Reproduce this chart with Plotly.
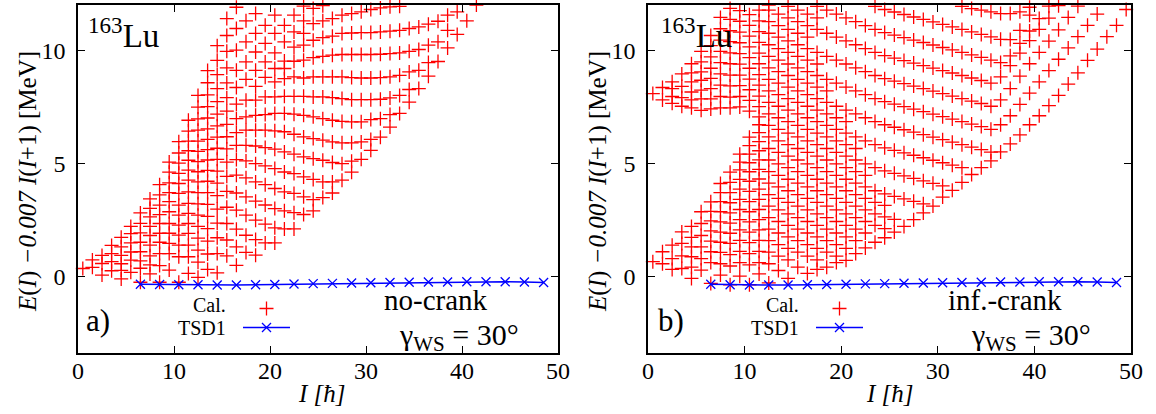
import plotly.graph_objects as go

FONT = "Liberation Serif"

# ---------------- Panel a (no-crank): calculated levels, one list per spin column ----------------
a_spins = [0.5, 1.5, 2.5, 3.5, 4.5, 5.5, 6.5, 7.5, 8.5, 9.5, 10.5, 11.5, 12.5, 13.5, 14.5, 15.5,
           16.5, 17.5, 18.5, 19.5, 20.5, 21.5, 22.5, 23.5, 24.5, 25.5, 26.5, 27.5, 28.5, 29.5,
           30.5, 31.5, 32.5, 33.5, 34.5, 35.5, 36.5, 37.5, 38.5, 39.5, 40.5, 41.5]
a_levels = [
    [0.34],
    [0.39, 0.72],
    [0.05, 0.56, 0.92],
    [0.24, 0.64, 1.0, 1.36],
    [-0.12, 0.26, 0.55, 0.92, 1.3, 1.72],
    [0.17, 0.71, 1.07, 1.47, 1.88, 2.2],
    [-0.27, 0.35, 0.68, 1.08, 1.5, 1.92, 2.34, 2.8],
    [0.1, 0.5, 0.9, 1.37, 1.8, 2.2, 2.62, 3.0, 3.42],
    [-0.27, 0.47, 1.0, 1.5, 1.9, 2.33, 2.72, 3.14, 3.6, 4.05],
    [0.27, 1.0, 1.45, 1.9, 2.33, 2.85, 3.3, 3.7, 4.13, 4.6, 5.05],
    [-0.27, 0.86, 1.37, 1.82, 2.26, 2.7, 3.14, 3.66, 4.1, 4.55, 5.0, 5.45, 5.95],
    [0.12, 0.86, 1.37, 1.89, 2.33, 2.78, 3.22, 3.73, 4.25, 4.69, 5.13, 5.55, 5.98, 6.42, 6.9],
    [-0.05, 0.62, 1.15, 1.68, 2.2, 2.7, 3.2, 3.7, 4.17, 4.62, 5.07, 5.52, 5.98, 6.46, 6.96, 7.48, 8.0],
    [0.3, 0.98, 1.55, 2.1, 2.65, 3.18, 3.7, 4.2, 4.68, 5.14, 5.6, 6.05, 6.52, 7.0, 7.5, 8.02, 8.56, 9.1],
    [0.15, 1.0, 1.7, 2.35, 2.97, 3.56, 4.12, 4.65, 5.17, 5.66, 6.15, 6.65, 7.17, 7.72, 8.3, 8.92, 9.55, 10.2],
    [0.9, 1.6, 2.33, 3.05, 3.75, 4.42, 5.05, 5.63, 6.17, 6.72, 7.3, 7.9, 8.55, 9.22, 9.95, 10.65, 11.4],
    [0.48, 1.3, 2.08, 2.92, 3.68, 4.47, 5.16, 5.79, 6.35, 6.97, 7.61, 8.35, 9.11, 10.0, 10.96, 11.9],
    [1.05, 1.81, 2.7, 3.51, 4.35, 5.1, 5.79, 6.46, 7.05, 7.79, 8.71, 9.48, 10.37, 11.3],
    [0.93, 1.62, 2.48, 3.32, 4.17, 4.98, 5.76, 6.46, 7.12, 7.79, 8.4, 9.11, 9.92, 10.74, 11.62],
    [1.47, 2.3, 3.15, 4.05, 4.88, 5.69, 6.46, 7.15, 7.93, 8.8, 9.48, 10.3, 11.1],
    [1.47, 2.14, 2.99, 3.88, 4.76, 5.62, 6.43, 7.2, 7.93, 8.6, 9.19, 9.88, 10.74, 11.55],
    [2.09, 2.89, 3.73, 4.61, 5.5, 6.39, 7.2, 7.96, 8.74, 9.19, 9.52, 10.37, 11.1],
    [2.09, 2.81, 3.66, 4.54, 5.4, 6.28, 7.17, 7.96, 8.82, 9.51, 10.14, 10.81, 11.55],
    [2.73, 3.51, 4.39, 5.28, 6.16, 7.12, 7.96, 8.77, 9.56, 10.22, 10.74, 11.3, 11.95],
    [2.89, 3.39, 4.28, 5.2, 6.09, 7.05, 7.93, 8.82, 9.67, 10.44, 11.18, 11.85],
    [3.48, 4.17, 5.13, 6.02, 6.97, 7.93, 8.82, 9.73, 10.56, 11.3, 11.97],
    [3.68, 4.17, 5.03, 5.94, 6.9, 7.9, 8.82, 9.78, 10.62, 11.4],
    [4.25, 4.98, 5.9, 6.85, 7.86, 8.82, 9.81, 10.74, 11.55],
    [4.6, 5.09, 5.9, 6.83, 7.81, 8.79, 9.81, 10.76, 11.62],
    [5.17, 5.94, 6.83, 7.81, 8.77, 9.81, 10.78, 11.7],
    [5.57, 6.05, 6.93, 7.81, 8.77, 9.81, 10.78, 11.8],
    [6.15, 6.97, 7.83, 8.79, 9.82, 10.81, 11.87],
    [6.6, 7.15, 7.89, 8.82, 9.85, 10.84, 11.92],
    [7.2, 8.0, 8.89, 9.88, 10.88, 11.94],
    [7.7, 8.26, 9.04, 9.95, 10.96],
    [8.3, 9.11, 10.03, 11.03],
    [8.85, 9.45, 10.22, 11.15],
    [9.5, 10.37, 11.28],
    [10.1, 10.88, 11.55],
    [10.7, 11.7],
    [11.3],
    [12.0],
]

# ---------------- Panel b (inf.-crank): low-spin columns ----------------
b_col_spins = [0.5, 1.5, 2.5, 3.5, 4.5, 5.5, 6.5, 7.5, 8.5, 9.5, 10.5, 11.5]
b_col_levels = [
    [0.64, 8.08],
    [0.55, 1.08, 7.8, 8.35],
    [0.3, 0.78, 1.37, 7.65, 7.95, 8.3, 8.6],
    [0.34, 0.9, 1.45, 1.96, 7.52, 7.9, 8.4, 8.95],
    [-0.1, 0.4, 0.86, 1.3, 1.72, 2.2, 7.45, 7.8, 8.15, 8.6, 9.0, 9.4],
    [0.27, 0.78, 1.3, 1.8, 2.33, 2.85, 7.34, 7.85, 8.23, 8.67, 9.04, 9.48, 9.95],
    [-0.32, 0.6, 1.08, 1.55, 2.0, 2.45, 2.87, 3.29, 7.4, 7.85, 8.3, 8.75, 9.2, 9.7, 10.2, 10.65],
    [0.05, 0.55, 1.05, 1.5, 1.95, 2.4, 2.85, 3.3, 3.7, 4.1, 7.45, 7.95, 8.45, 8.95, 9.45, 9.95, 10.45, 10.95, 11.45],
    [-0.38, 0.45, 0.95, 1.45, 1.9, 2.35, 2.8, 3.25, 3.7, 4.15, 4.6, 7.45, 7.92, 8.42, 8.9, 9.4, 9.88, 10.38, 10.86, 11.36, 11.85],
    [0.0, 0.6, 1.1, 1.58, 2.05, 2.5, 2.95, 3.4, 3.85, 4.28, 4.7, 5.05, 5.4, 7.49, 7.95, 8.43, 8.9, 9.38, 9.85, 10.33, 10.8, 11.28, 11.75],
    [-0.38, 0.5, 1.0, 1.48, 1.95, 2.4, 2.85, 3.3, 3.75, 4.2, 4.62, 5.02, 5.4, 5.78, 6.15, 7.3, 7.78, 8.25, 8.72, 9.2, 9.67, 10.15, 10.62, 11.1, 11.57],
    [0.1, 0.6, 1.1, 1.58, 2.05, 2.5, 2.95, 3.4, 3.85, 4.3, 4.73, 5.15, 5.55, 5.95, 6.35, 6.7, 7.05, 7.5, 7.97, 8.45, 8.92, 9.4, 9.87, 10.35, 10.82, 11.3, 11.77],
]

# ---------------- Panel b: bands (first spin, energies at successive spins dI = 1) ----------------
b_band_start = [12.5, 12.5, 12.5, 12.5, 12.5, 12.5, 12.5, 12.5, 12.5, 12.5, 12.5, 12.5, 12.5, 12.5,
                12.5, 12.5, 12.5, 12.5, 12.5, 12.5, 12.5, 12.5, 12.5, 12.5, 12.5, 14.5, 17.5, 23.5, 32.5]
b_band_levels = [
    [-0.3, 0.25, -0.1, 0.4, 0.12, 0.3, 0.4, 0.6, 0.7, 1.0, 1.25, 1.5, 1.7, 1.95, 2.2, 2.5, 2.8, 3.1, 3.5,
     3.8, 4.15, 4.5, 4.8, 5.1, 5.5, 5.85, 6.25, 6.7, 7.1, 7.55, 8.0, 8.5, 9.0, 9.55, 10.05, 10.6, 11.1, 11.8],
    [0.55],
    [1.06, 0.89, 0.72],
    [1.57, 1.4, 1.23, 1.06, 0.89, 0.72],
    [2.08, 1.91, 1.74, 1.57, 1.4, 1.23, 1.06, 0.89],
    [2.59, 2.42, 2.25, 2.08, 1.91, 1.74, 1.57, 1.4, 1.23],
    [3.1, 2.93, 2.76, 2.59, 2.42, 2.25, 2.08, 1.91, 1.74, 1.57],
    [3.61, 3.44, 3.27, 3.1, 2.93, 2.76, 2.59, 2.42, 2.25, 2.08, 1.91],
    [4.12, 3.95, 3.78, 3.61, 3.44, 3.27, 3.1, 2.93, 2.76, 2.59, 2.42, 2.25, 2.1],
    [4.63, 4.46, 4.29, 4.12, 3.95, 3.78, 3.61, 3.44, 3.27, 3.1, 2.93, 2.76, 2.62, 2.51],
    [5.14, 4.97, 4.8, 4.63, 4.46, 4.29, 4.12, 3.95, 3.78, 3.61, 3.44, 3.27, 3.13],
    [5.65, 5.48, 5.31, 5.14, 4.97, 4.8, 4.63, 4.46, 4.29, 4.12, 3.95, 3.78, 3.64, 3.53, 3.42, 3.31, 3.2],
    [6.16, 5.99, 5.82, 5.65, 5.48, 5.31, 5.14, 4.97, 4.8, 4.63, 4.46],
    [6.67, 6.5, 6.33, 6.16, 5.99, 5.82, 5.65, 5.48, 5.31, 5.14, 4.97, 4.8, 4.66, 4.55, 4.44, 4.33, 4.22,
     4.11, 4.0],
    [7.18, 7.01, 6.84, 6.67, 6.5, 6.33, 6.16, 5.99, 5.82, 5.65],
    [7.69, 7.52, 7.35, 7.18, 7.01, 6.84, 6.67, 6.5, 6.33, 6.16, 5.99, 5.82, 5.68, 5.57, 5.46, 5.35, 5.24,
     5.13, 5.02, 4.91, 4.8],
    [8.2, 8.03, 7.86, 7.69, 7.52, 7.35, 7.18, 7.01, 6.84],
    [8.71, 8.54, 8.37, 8.2, 8.03, 7.86, 7.69, 7.52, 7.35, 7.18, 7.01, 6.84, 6.7, 6.59, 6.48, 6.37, 6.26,
     6.15, 6.04, 5.93, 5.82, 5.71, 5.6, 5.49],
    [9.22, 9.05, 8.88, 8.71, 8.54, 8.37, 8.2],
    [9.73, 9.56, 9.39, 9.22, 9.05, 8.88, 8.71, 8.54, 8.37, 8.2, 8.03, 7.86, 7.72, 7.61, 7.5, 7.39, 7.28,
     7.17, 7.06, 6.95, 6.84, 6.73, 6.62, 6.5, 6.7, 7.1, 7.6, 8.1, 8.6, 9.1, 9.6, 10.1, 10.6, 11.1, 11.6],
    [10.24, 10.07, 9.9, 9.73, 9.56, 9.39],
    [10.75, 10.58, 10.41, 10.24, 10.07, 9.9, 9.73, 9.56, 9.39, 9.22, 9.05, 8.88, 8.74, 8.63, 8.52, 8.41,
     8.3, 8.19, 8.08, 7.97, 7.86, 7.75, 7.64, 7.52, 7.8, 8.3, 8.85, 9.4, 9.9, 10.4, 10.9, 11.45, 11.95],
    [11.26, 11.09, 10.92, 10.75, 10.58],
    [11.77, 11.6, 11.43, 11.26, 11.09, 10.92, 10.75, 10.58, 10.41, 10.24, 10.07, 9.9, 9.76, 9.65, 9.54,
     9.43, 9.32, 9.21, 9.1, 8.99, 8.88, 8.77, 8.66, 8.54, 8.82, 9.32, 9.87, 10.42, 10.92, 11.42, 11.97],
    [12.0],
    [11.94, 11.77, 11.6, 11.43],
    [11.94, 11.77, 11.6, 11.43, 11.26, 11.09, 10.92, 10.78, 10.67, 10.56, 10.45, 10.34, 10.23, 10.12,
     10.01, 9.9, 9.79, 9.68, 9.56, 9.45, 9.75, 10.3, 10.85, 11.4, 11.95],
    [11.94, 11.8, 11.69, 11.58, 11.47, 11.36, 11.25, 11.14, 11.03, 10.92, 10.81, 10.7, 10.59, 10.48,
     10.47, 10.88, 11.55],
    [11.94, 11.84, 11.77, 11.7, 11.62, 11.62, 11.7, 11.9],
]

# ---------------- TSD1 ----------------
tsd_spins = [6.5, 8.5, 10.5, 12.5, 14.5, 16.5, 18.5, 20.5, 22.5, 24.5, 26.5, 28.5, 30.5, 32.5,
             34.5, 36.5, 38.5, 40.5, 42.5, 44.5, 46.5, 48.5]
tsd_a = [-0.36, -0.37, -0.38, -0.38, -0.39, -0.39, -0.38, -0.37, -0.35, -0.33, -0.32, -0.30,
         -0.29, -0.28, -0.27, -0.26, -0.26, -0.25, -0.25, -0.25, -0.26, -0.28]
tsd_b = [-0.36, -0.38, -0.39, -0.39, -0.39, -0.38, -0.37, -0.36, -0.34, -0.33, -0.31, -0.30,
         -0.29, -0.28, -0.27, -0.26, -0.26, -0.25, -0.25, -0.25, -0.26, -0.28]

x_ticks = [0, 10, 20, 30, 40, 50]
y_ticks = [0, 5, 10]


def flatten_columns(spins, levels):
    xs, ys = [], []
    for s, lv in zip(spins, levels):
        for e in lv:
            xs.append(s)
            ys.append(e)
    return xs, ys


def flatten_bands(starts, levels):
    xs, ys = [], []
    for s, lv in zip(starts, levels):
        for k, e in enumerate(lv):
            xs.append(s + k)
            ys.append(e)
    return xs, ys


xa, ya = flatten_columns(a_spins, a_levels)
xb1, yb1 = flatten_columns(b_col_spins, b_col_levels)
xb2, yb2 = flatten_bands(b_band_start, b_band_levels)
xb, yb = xb1 + xb2, yb1 + yb2

W, H = 1156, 414
RED = "rgb(255,0,0)"
BLUE = "rgb(0,0,255)"

cal_marker = dict(symbol="cross-thin", size=10, color=RED, line=dict(color=RED, width=1.3))
tsd_marker = dict(symbol="x-thin", size=9, color=BLUE, line=dict(color=BLUE, width=1.3))

# legend keys are drawn by the legends; their labels are placed to the left as text (gnuplot style)
fig = go.Figure()
fig.add_trace(go.Scatter(x=xa, y=ya, mode="markers", name="", marker=cal_marker,
                         xaxis="x", yaxis="y", legend="legend", cliponaxis=False))
fig.add_trace(go.Scatter(x=tsd_spins, y=tsd_a, mode="lines+markers", name="",
                         line=dict(color=BLUE, width=1.5), marker=tsd_marker,
                         xaxis="x", yaxis="y", legend="legend", cliponaxis=False))
fig.add_trace(go.Scatter(x=xb, y=yb, mode="markers", name="", marker=cal_marker,
                         xaxis="x2", yaxis="y2", legend="legend2", cliponaxis=False))
fig.add_trace(go.Scatter(x=tsd_spins, y=tsd_b, mode="lines+markers", name="",
                         line=dict(color=BLUE, width=1.5), marker=tsd_marker,
                         xaxis="x2", yaxis="y2", legend="legend2", cliponaxis=False))

px = lambda v: v / W
py = lambda v: (H - v) / H

tick_font = dict(family=FONT, size=24, color="black")


def axis_style(**kw):
    d = dict(showgrid=False, zeroline=False, showline=True, mirror="ticks", linecolor="black",
             linewidth=1.5, ticks="inside", ticklen=7, tickwidth=1, tickcolor="black",
             tickfont=tick_font, automargin=False)
    d.update(kw)
    return d


ydom = [py(353), py(5)]
leg_common = dict(xanchor="left", yanchor="top", bgcolor="rgba(0,0,0,0)",
                  font=dict(family=FONT, size=12, color="black"), itemwidth=47,
                  tracegroupgap=0, borderwidth=0)
fig.update_layout(
    width=W, height=H, margin=dict(l=0, r=0, t=0, b=0, pad=0),
    font=dict(family=FONT, size=24, color="black"),
    paper_bgcolor="white", plot_bgcolor="white",
    xaxis=axis_style(domain=[px(78), px(558)], range=[0, 50], tickvals=x_ticks, anchor="y",
                     ticklabelstandoff=-5),
    yaxis=axis_style(domain=ydom, range=[-3.4, 12.0], tickvals=y_ticks, anchor="x",
                     ticklabelstandoff=6),
    xaxis2=axis_style(domain=[px(648), px(1131)], range=[0, 50], tickvals=x_ticks, anchor="y2",
                      ticklabelstandoff=-5),
    yaxis2=axis_style(domain=ydom, range=[-3.4, 12.0], tickvals=y_ticks, anchor="x2",
                      ticklabelstandoff=6),
    legend=dict(x=px(238), y=py(294), **leg_common),
    legend2=dict(x=px(811), y=py(294), **leg_common),
    showlegend=True,
)

ann = []


def add_text(text, x, y, size, xanchor="center", yanchor="middle", angle=0):
    ann.append(dict(text=text, x=px(x), y=py(y), xref="paper", yref="paper", showarrow=False,
                    xanchor=xanchor, yanchor=yanchor, textangle=angle,
                    font=dict(family=FONT, size=size, color="black")))


ytitle = "<i>E</i>(<i>I</i>) <i>\u22120.007 I</i>(<i>I</i>+1) [MeV]"
add_text(ytitle, 28, 182, 25, angle=-90)
add_text(ytitle, 598, 182, 25, angle=-90)
add_text("<i>I [\u0127]</i>", 322, 393, 25)
add_text("<i>I [\u0127]</i>", 890, 393, 25)
add_text("<sup>163</sup>Lu", 86, 33, 33, xanchor="left")
add_text("<sup>163</sup>Lu", 659, 33, 33, xanchor="left")
add_text("a)", 84, 320, 31, xanchor="left")
add_text("b)", 656, 320, 31, xanchor="left")
add_text("Cal.", 228, 305, 20, xanchor="right")
add_text("TSD1", 228, 328, 20, xanchor="right")
add_text("Cal.", 801, 305, 20, xanchor="right")
add_text("TSD1", 801, 328, 20, xanchor="right")
add_text("no-crank", 436, 300, 29)
add_text("\u03b3<sub>WS</sub> = 30\u00b0", 459, 337, 30)
add_text("inf.-crank", 1005, 300, 29)
add_text("\u03b3<sub>WS</sub> = 30\u00b0", 1031, 337, 30)
fig.update_layout(annotations=ann)

fig.write_html("out.html", config={"displayModeBar": False},
               post_script="document.body.style.margin='0px';document.body.style.padding='0px';")
